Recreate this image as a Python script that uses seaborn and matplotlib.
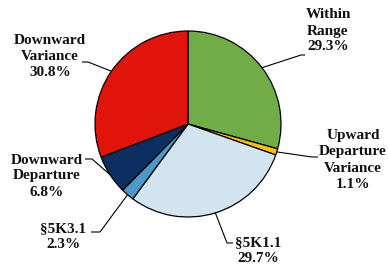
import numpy as np
import matplotlib
matplotlib.use("Agg")
import matplotlib.pyplot as plt
import seaborn as sns

sns.set_theme(style="white")
plt.rcParams['font.family'] = ['Liberation Serif', 'DejaVu Serif']

categories = ["Within\nRange", "Upward\nDeparture\nVariance", "§5K1.1", "§5K3.1",
              "Downward\nDeparture", "Downward\nVariance"]
values = [29.3, 1.1, 29.7, 2.3, 6.8, 30.8]
colors = ["#70AD47", "#FFC000", "#D2E4F0", "#4B99CB", "#0B2F60", "#E0140A"]

W, H = 388, 269
fig = plt.figure(figsize=(W / 100, H / 100), dpi=100)
ax = fig.add_axes([0, 0, 1, 1])

cx, cy, R = 188, 124, 93

def px(x, y):
    return ((x - cx) / R, (cy - y) / R)

wedges, _ = ax.pie(values, colors=colors, startangle=90, counterclock=False,
                   radius=1.0, wedgeprops=dict(edgecolor="black", linewidth=0.9))
ax.set_xlim(-cx / R, (W - cx) / R)
ax.set_ylim(-(H - cy) / R, cy / R)
ax.set_aspect("equal")
ax.axis("off")

# label layout: (text center px), elbow px, end px
layout = [
    ((328, 31), (301, 55), (305, 55)),
    ((353, 160), (312, 157), (318, 157)),
    ((258, 251), (227, 243), (233, 243)),
    ((63, 237), (100, 232), (91, 232)),
    ((47, 176), (92, 159), (85, 159)),
    ((50, 57), (88, 62), (82, 62)),
]

for w, cat, val, (tc, el, en) in zip(wedges, categories, values, layout):
    mid = np.deg2rad((w.theta1 + w.theta2) / 2)
    sx, sy = np.cos(mid), np.sin(mid)
    ex, ey = px(*el)
    nx, ny = px(*en)
    ax.plot([sx, ex, nx], [sy, ey, ny], color="black", lw=0.8, solid_capstyle="butt")
    tx, ty = px(*tc)
    ax.text(tx, ty, f"{cat}\n{val:.1f}%", ha="center", va="center",
            fontsize=11, fontweight="bold", linespacing=1.3, color="#111111")

fig.savefig("out.png", dpi=100)
